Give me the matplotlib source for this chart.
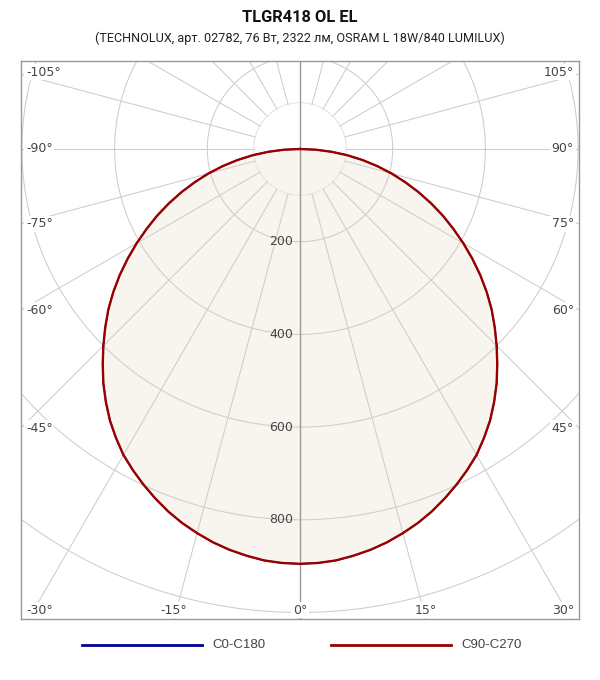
import numpy as np
import matplotlib
matplotlib.use("Agg")
import matplotlib.pyplot as plt
from matplotlib.lines import Line2D

# ---------------- data ----------------
title = "TLGR418 OL EL"
subtitle = "(TECHNOLUX, арт. 02782, 76 Вт, 2322 лм, OSRAM L 18W/840 LUMILUX)"

angles = [-90, -87.5, -85, -82.5, -80, -77.5, -75, -72.5, -70, -67.5, -65, -62.5, -60, -57.5,
          -55, -52.5, -50, -47.5, -45, -42.5, -40, -37.5, -35, -32.5, -30, -27.5, -25, -22.5,
          -20, -17.5, -15, -12.5, -10, -7.5, -5, -2.5,
          0, 2.5, 5, 7.5, 10, 12.5, 15, 17.5, 20, 22.5, 25, 27.5, 30, 32.5, 35, 37.5, 40, 42.5,
          45, 47.5, 50, 52.5, 55, 57.5, 60, 62.5, 65, 67.5, 70, 72.5, 75, 77.5, 80, 82.5, 85,
          87.5, 90]
c0_c180 = [0, 34, 68, 103, 137, 171, 205, 238, 272, 306, 340, 373, 407, 441,
           475, 508, 540, 570, 600, 630, 660, 688, 715, 739, 762, 781, 799, 816,
           832, 846, 858, 869, 878, 885, 891, 894,
           895, 894, 891, 885, 878, 869, 858, 846, 832, 816, 799, 781, 762, 739, 715, 688, 660, 630,
           600, 570, 540, 508, 475, 441, 407, 373, 340, 306, 272, 238, 205, 171, 137, 103, 68,
           34, 0]
c90_c270 = [0, 34, 68, 103, 137, 171, 205, 238, 272, 306, 340, 373, 407, 441,
            475, 508, 540, 570, 600, 630, 660, 688, 715, 739, 762, 781, 799, 816,
            832, 846, 858, 869, 878, 885, 891, 894,
            895, 894, 891, 885, 878, 869, 858, 846, 832, 816, 799, 781, 762, 739, 715, 688, 660, 630,
            600, 570, 540, 508, 475, 441, 407, 373, 340, 306, 272, 238, 205, 171, 137, 103, 68,
            34, 0]
series_names = ["C0-C180", "C90-C270"]
series_colors = ["#000099", "#990000"]

radial_ticks = [200, 400, 600, 800]
grid_circles = [200, 400, 600, 800, 1000, 1200, 1400]
inner_circle = 100
angle_ticks = [-105, -90, -75, -60, -45, -30, -15, 0, 15, 30, 45, 60, 75, 90, 105]
spoke_angles = list(range(0, 360, 15))

# ---------------- layout ----------------
W, H, DPI = 600, 680, 100
PX = 0.4635            # pixels per cd
BOX_L, BOX_R, BOX_T, BOX_B = 21, 579, 61, 619
CX, CY = 300, 149

fig = plt.figure(figsize=(W / DPI, H / DPI), dpi=DPI)
fig.patch.set_facecolor("white")
ax = fig.add_axes([BOX_L / W, 1 - BOX_B / H, (BOX_R - BOX_L) / W, (BOX_B - BOX_T) / H])
xmin, xmax = -(CX - BOX_L) / PX, (BOX_R - CX) / PX
ymin, ymax = -(BOX_B - CY) / PX, (CY - BOX_T) / PX
ax.set_xlim(xmin, xmax)
ax.set_ylim(ymin, ymax)
ax.set_xticks([])
ax.set_yticks([])
for sp in ax.spines.values():
    sp.set_color("#999999")
    sp.set_linewidth(1.0)

px = 1 / PX  # one pixel in data units
grid_col = "#cdcdcd"

series = [c0_c180, c90_c270]
for vals in series:
    a = np.radians(angles)
    v = np.asarray(vals, float)
    ax.fill(v * np.sin(a), -v * np.cos(a), color="#f8f5ee", zorder=1, lw=0)

# grid circles
t = np.linspace(0, 2 * np.pi, 721)
for r in grid_circles:
    ax.plot(r * np.cos(t), r * np.sin(t), color=grid_col, lw=0.75, zorder=2)
ax.plot(inner_circle * np.cos(t), inner_circle * np.sin(t), color="#e4e4e4", lw=0.75, zorder=2)

# spokes
for s in spoke_angles:
    if s in (0, 180):
        continue
    a = np.radians(s)
    d = np.array([np.sin(a), -np.cos(a)])
    p0 = inner_circle * d
    p1 = 3000 * d
    ax.plot([p0[0], p1[0]], [p0[1], p1[1]], color=grid_col, lw=0.75, zorder=2)
ax.axvline(0, color="#999999", lw=1.0, zorder=2.5)

# curves
for vals, col, lw in zip(series, series_colors, [1.1, 1.7]):
    a = np.radians(angles)
    v = np.asarray(vals, float)
    ax.plot(v * np.sin(a), -v * np.cos(a), color=col, lw=lw, zorder=3, solid_joinstyle="round")

# radial labels
for r in radial_ticks:
    ax.text(-7 * px, -r, str(r), ha="right", va="center", fontsize=9, color="#444444",
            family="DejaVu Sans", zorder=4)

# angle labels
for ang in angle_ticks:
    a = np.radians(ang)
    dx, dy = np.sin(a), -np.cos(a)
    ts = []
    if abs(dx) > 1e-9:
        ts.append(((xmax if dx > 0 else xmin) / dx, "side"))
    if abs(dy) > 1e-9:
        ts.append(((ymax if dy > 0 else ymin) / dy, "tb"))
    tt, kind = min(ts, key=lambda q: q[0])
    Px, Py = tt * dx, tt * dy
    lab = f"{ang}°"
    kw = dict(fontsize=9, color="#444444", family="DejaVu Sans", zorder=5,
              bbox=dict(facecolor="white", edgecolor="none", pad=1.2))
    if kind == "side":
        yy = min(Py, ymax - 11 * px)
        if Py > ymax - 80 * px:
            yy = ymax - 11 * px
        if dx < 0:
            ax.text(xmin + 5 * px, yy, lab, ha="left", va="center", **kw)
        else:
            ax.text(xmax - 5 * px, yy, lab, ha="right", va="center", **kw)
    else:
        yy = ymin + 9 * px
        if Px - 14 * px < xmin + 5 * px:
            ax.text(xmin + 5 * px, yy, lab, ha="left", va="center", **kw)
        elif Px + 14 * px > xmax - 5 * px:
            ax.text(xmax - 5 * px, yy, lab, ha="right", va="center", **kw)
        else:
            ax.text(Px, yy, lab, ha="center", va="center", **kw)

# titles
fig.text(0.5, 1 - 17 / H, title, ha="center", va="center", fontsize=11.8,
         fontweight="bold", family="Roboto", color="#111111")
fig.text(0.5, 1 - 38 / H, subtitle, ha="center", va="center", fontsize=9.1,
         family="Roboto", color="#222222")

# legend
leg_y = 1 - 645 / H
for (x0, x1, tx), name, col in zip([(82, 202, 212), (331, 451, 461)], series_names, series_colors):
    fig.add_artist(Line2D([x0 / W, x1 / W], [leg_y, leg_y], color=col, lw=2.0,
                          transform=fig.transFigure))
    fig.text(tx / W, leg_y, name, ha="left", va="center", fontsize=9.5,
             family="Liberation Sans", color="#444444")

fig.savefig("out.png", dpi=DPI, facecolor="white")
